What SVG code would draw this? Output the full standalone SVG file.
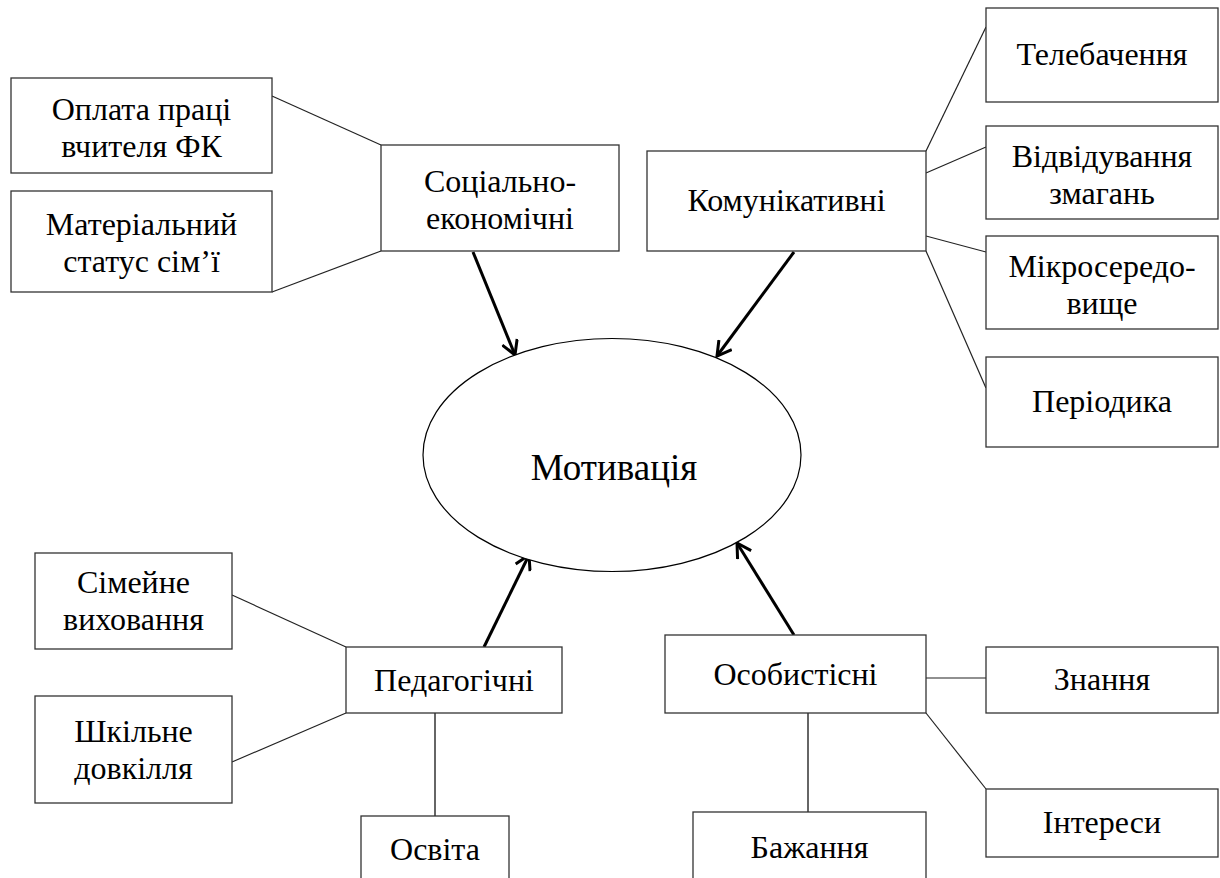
<svg xmlns="http://www.w3.org/2000/svg" width="1220" height="878" viewBox="0 0 1220 878">
<style>
.box{fill:#fff;stroke:#333;stroke-width:1.3}
text{font-family:'Liberation Serif','Times New Roman',serif;font-size:32px;fill:#000;text-anchor:middle}
text.big{font-size:37px}
.ln{stroke:#222;stroke-width:1.2;fill:none}
.vl{stroke:#666;stroke-width:2;fill:none}
.ar{stroke:#000;stroke-width:3;fill:none;marker-end:url(#ah)}
</style>
<defs>
<marker id="ah" viewBox="0 0 18 18" refX="16" refY="9" markerWidth="18" markerHeight="18" markerUnits="userSpaceOnUse" orient="auto">
<path d="M2,1 L16,9 L2,17" fill="none" stroke="#000" stroke-width="3"/>
</marker>
</defs>
<rect width="1220" height="878" fill="#fff"/>
<g id="connectors">
<line class="ln" x1="272" y1="96" x2="381" y2="145"/>
<line class="ln" x1="272" y1="292" x2="381" y2="251"/>
<line class="ln" x1="926" y1="151" x2="986" y2="27"/>
<line class="ln" x1="926" y1="173" x2="986" y2="147"/>
<line class="ln" x1="926" y1="236" x2="986" y2="252"/>
<line class="ln" x1="926" y1="251" x2="986" y2="388"/>
<line class="ln" x1="232" y1="595" x2="346" y2="647"/>
<line class="ln" x1="232" y1="762" x2="346" y2="713"/>
<line class="vl" x1="435" y1="713" x2="435" y2="816"/>
<line class="ln" x1="926" y1="678" x2="986" y2="678"/>
<line class="ln" x1="926" y1="713" x2="986" y2="789"/>
<line class="vl" x1="808" y1="713" x2="808" y2="812"/>
<line class="ar" x1="473" y1="252" x2="515" y2="355"/>
<line class="ar" x1="794" y1="252" x2="717" y2="356"/>
<line class="ar" x1="484" y1="647" x2="529" y2="555"/>
<line class="ar" x1="794" y1="635" x2="737" y2="543"/>
</g>
<g id="motivation">
<ellipse cx="612" cy="455" rx="189" ry="116.5" fill="#fff" stroke="#000" stroke-width="1.2"/>
<text class="big" x="614" y="480">Мотивація</text>
</g>
<g id="oplata">
<rect class="box" x="11" y="78" width="261" height="95"/>
<text x="141.5" y="120">Оплата праці</text>
<text x="141.5" y="157">вчителя ФК</text>
</g>
<g id="material">
<rect class="box" x="11" y="191" width="261" height="101"/>
<text x="141.5" y="235">Матеріальний</text>
<text x="141.5" y="272">статус сім’ї</text>
</g>
<g id="social">
<rect class="box" x="381" y="145" width="238" height="106"/>
<text x="500" y="192">Соціально-</text>
<text x="500" y="229">економічні</text>
</g>
<g id="komun">
<rect class="box" x="647" y="151" width="279" height="100"/>
<text x="786.5" y="211">Комунікативні</text>
</g>
<g id="tele">
<rect class="box" x="986" y="8" width="232" height="94"/>
<text x="1102" y="65">Телебачення</text>
</g>
<g id="vidv">
<rect class="box" x="986" y="126" width="232" height="93"/>
<text x="1102" y="167">Відвідування</text>
<text x="1102" y="204">змагань</text>
</g>
<g id="mikro">
<rect class="box" x="986" y="236" width="232" height="93"/>
<text x="1102" y="277">Мікросередо-</text>
<text x="1102" y="314">вище</text>
</g>
<g id="period">
<rect class="box" x="986" y="357" width="232" height="90"/>
<text x="1102" y="412">Періодика</text>
</g>
<g id="simeine">
<rect class="box" x="35" y="553" width="197" height="96"/>
<text x="133.5" y="593">Сімейне</text>
<text x="133.5" y="630">виховання</text>
</g>
<g id="shkilne">
<rect class="box" x="35" y="696" width="197" height="107"/>
<text x="133.5" y="742">Шкільне</text>
<text x="133.5" y="779">довкілля</text>
</g>
<g id="pedag">
<rect class="box" x="346" y="647" width="216" height="66"/>
<text x="454" y="691">Педагогічні</text>
</g>
<g id="osvita">
<rect class="box" x="361" y="816" width="148" height="70"/>
<text x="435" y="860">Освіта</text>
</g>
<g id="osobyst">
<rect class="box" x="665" y="635" width="261" height="78"/>
<text x="795.5" y="685">Особистісні</text>
</g>
<g id="znannia">
<rect class="box" x="986" y="647" width="232" height="66"/>
<text x="1102" y="690">Знання</text>
</g>
<g id="interesy">
<rect class="box" x="986" y="789" width="232" height="68"/>
<text x="1102" y="833">Інтереси</text>
</g>
<g id="bazhannia">
<rect class="box" x="693" y="812" width="233" height="74"/>
<text x="809.5" y="858">Бажання</text>
</g>
</svg>
